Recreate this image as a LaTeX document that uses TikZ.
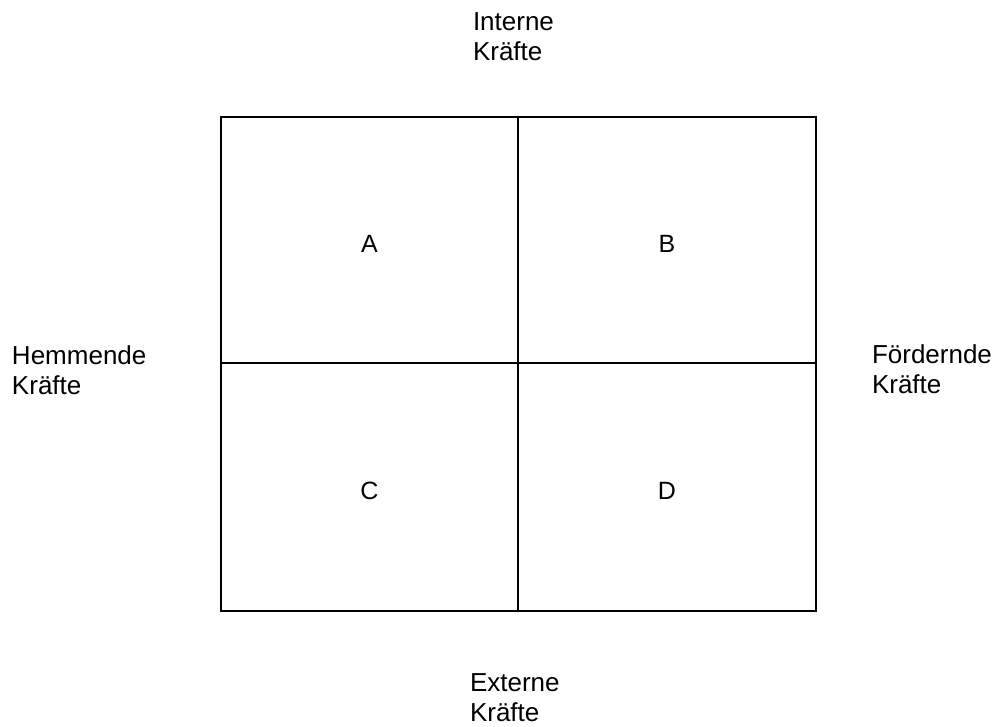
\documentclass[tikz,border=0pt]{standalone}
\usepackage{fontspec}
\setmainfont{Liberation Sans}
\begin{document}
\begin{tikzpicture}[x=1pt,y=-1pt,
  cell/.style={draw=black, line width=1.2pt, inner sep=0pt, outer sep=0pt, text height=25pt, text depth=0pt, font=\fontsize{25}{30}\selectfont},
  lbl/.style={inner sep=0pt, outer sep=0pt, align=left, anchor=north west, font=\fontsize{26}{30}\selectfont}]
\useasboundingbox[fill=white] (0,0) rectangle (1000,726);
\node[cell, minimum width=297pt, minimum height=246pt] (A) at (369.5,240) {A};
\node[cell, minimum width=298pt, minimum height=246pt] (B) at (667,240) {B};
\node[cell, minimum width=297pt, minimum height=248pt] (C) at (369.5,487) {C};
\node[cell, minimum width=298pt, minimum height=248pt] (D) at (667,487) {D};
\node[lbl] (int) at (473,13) {Interne\\Kräfte};
\node[lbl] (ext) at (470,674) {Externe\\Kräfte};
\node[lbl] (hem) at (12,346) {Hemmende\\Kräfte};
\node[lbl] (foe) at (872,345) {Fördernde\\Kräfte};
\end{tikzpicture}
\end{document}
